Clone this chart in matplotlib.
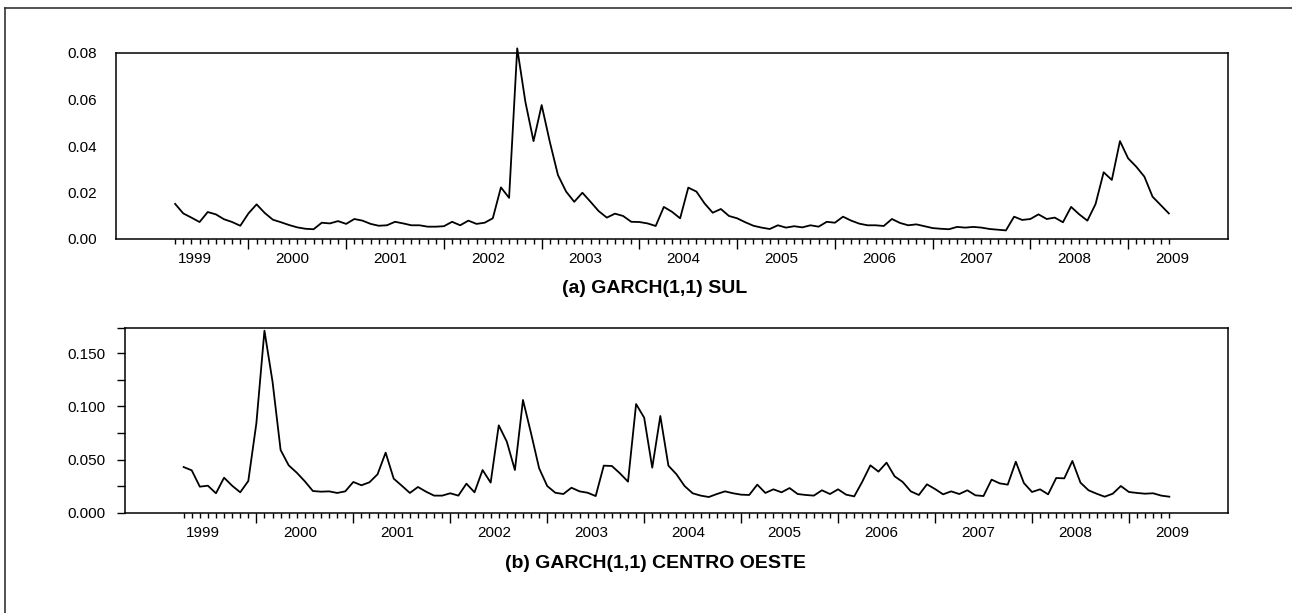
import numpy as np
import pandas as pd
import matplotlib
matplotlib.use("Agg")
import matplotlib.pyplot as plt
from matplotlib.lines import Line2D

plt.rcParams["font.family"] = ["Liberation Sans", "DejaVu Sans"]

# ─────────────────────────────────────────────
# Daten (monatlich)
# ─────────────────────────────────────────────
dates = pd.date_range("1999-04-01", periods=123, freq="MS")

sul = [
    0.0151, 0.0110, 0.0092, 0.0073, 0.0116, 0.0106, 0.0085, 0.0073, 0.0057, 0.0110,
    0.0149, 0.0112, 0.0083, 0.0072, 0.0060, 0.0050, 0.0044, 0.0042, 0.0070, 0.0067,
    0.0077, 0.0065, 0.0086, 0.0079, 0.0065, 0.0057, 0.0059, 0.0074, 0.0067, 0.0059,
    0.0059, 0.0053, 0.0053, 0.0055, 0.0074, 0.0059, 0.0079, 0.0065, 0.0070, 0.0089,
    0.0222, 0.0177, 0.0820, 0.0590, 0.0421, 0.0576, 0.0418, 0.0275, 0.0204, 0.0160,
    0.0199, 0.0160, 0.0120, 0.0092, 0.0109, 0.0099, 0.0074, 0.0073, 0.0067, 0.0056,
    0.0138, 0.0117, 0.0089, 0.0221, 0.0204, 0.0153, 0.0113, 0.0129, 0.0099, 0.0089,
    0.0072, 0.0057, 0.0049, 0.0043, 0.0059, 0.0049, 0.0055, 0.0050, 0.0059, 0.0053,
    0.0074, 0.0070, 0.0096, 0.0079, 0.0066, 0.0059, 0.0059, 0.0056, 0.0086, 0.0069,
    0.0059, 0.0063, 0.0055, 0.0047, 0.0044, 0.0042, 0.0052, 0.0049, 0.0052, 0.0049,
    0.0043, 0.0040, 0.0037, 0.0096, 0.0082, 0.0086, 0.0106, 0.0086, 0.0092, 0.0072,
    0.0138, 0.0106, 0.0079, 0.0150, 0.0287, 0.0254, 0.0421, 0.0347, 0.0311, 0.0268,
    0.0182, 0.0146, 0.0110,
]

centro_oeste = [
    0.0431, 0.0400, 0.0247, 0.0256, 0.0185, 0.0331, 0.0256, 0.0194, 0.0300, 0.0841,
    0.1710, 0.1232, 0.0591, 0.0447, 0.0378, 0.0297, 0.0206, 0.0200, 0.0203, 0.0188,
    0.0203, 0.0291, 0.0260, 0.0288, 0.0363, 0.0566, 0.0322, 0.0256, 0.0188, 0.0244,
    0.0200, 0.0163, 0.0163, 0.0185, 0.0163, 0.0275, 0.0194, 0.0403, 0.0285, 0.0822,
    0.0669, 0.0403, 0.1060, 0.0747, 0.0419, 0.0253, 0.0190, 0.0178, 0.0237, 0.0203,
    0.0190, 0.0159, 0.0444, 0.0441, 0.0372, 0.0294, 0.1022, 0.0894, 0.0425, 0.0910,
    0.0444, 0.0363, 0.0253, 0.0185, 0.0163, 0.0150, 0.0178, 0.0203, 0.0185, 0.0172,
    0.0169, 0.0266, 0.0188, 0.0222, 0.0194, 0.0234, 0.0178, 0.0169, 0.0163, 0.0213,
    0.0178, 0.0222, 0.0172, 0.0156, 0.0294, 0.0447, 0.0388, 0.0472, 0.0344, 0.0291,
    0.0203, 0.0169, 0.0269, 0.0225, 0.0175, 0.0203, 0.0178, 0.0213, 0.0166, 0.0159,
    0.0313, 0.0278, 0.0266, 0.0481, 0.0281, 0.0197, 0.0222, 0.0175, 0.0328, 0.0325,
    0.0488, 0.0285, 0.0213, 0.0181, 0.0153, 0.0181, 0.0253, 0.0197, 0.0188, 0.0181,
    0.0185, 0.0163, 0.0153,
]

years = list(range(1999, 2010))
titles = ["(a) GARCH(1,1) SUL", "(b) GARCH(1,1) CENTRO OESTE"]

# Zeitachse als Dezimaljahr
x = dates.year + (dates.month - 1) / 12
jan = x[dates.month == 1]
other = x[dates.month != 1]

# ─────────────────────────────────────────────
# Plot
# ─────────────────────────────────────────────
fig = plt.figure(figsize=(12.92, 6.13), dpi=100)

ax1 = fig.add_axes([116 / 1292, 1 - 239 / 613, 1112 / 1292, 186 / 613])
ax2 = fig.add_axes([125 / 1292, 1 - 513 / 613, 1103 / 1292, 185 / 613])


def style_time_axis(ax, values, title, title_y):
    ax.plot(x, values, color="black", lw=1.3, clip_on=False)
    ax.set_xlim(1998.645, 2010.022)
    for s in ax.spines.values():
        s.set_linewidth(1.1)
    ax.set_xticks(jan)
    ax.set_xticks(other, minor=True)
    ax.tick_params(axis="x", which="major", length=7.5, width=1.0, labelbottom=False)
    ax.tick_params(axis="x", which="minor", length=3.8, width=1.0)
    for yr in years:
        ax.annotate(str(yr), xy=(yr + 0.45, 0), xycoords=("data", "axes fraction"),
                    xytext=(0, -14.5), textcoords="offset points",
                    ha="center", va="center", fontsize=11)
    fig.text(0.507, title_y, title, ha="center", va="center",
             fontsize=14, fontweight="bold")


style_time_axis(ax1, sul, titles[0], 1 - 288 / 613)
ax1.set_ylim(0, 0.08)
ax1.set_yticks([0, 0.02, 0.04, 0.06, 0.08])
ax1.set_yticklabels(["0.00", "0.02", "0.04", "0.06", "0.08"])
ax1.tick_params(axis="y", length=0, pad=14, labelsize=11)

style_time_axis(ax2, centro_oeste, titles[1], 1 - 563 / 613)
ax2.set_ylim(0, 0.1735)
yt = [0, 0.025, 0.05, 0.075, 0.1, 0.125, 0.15, 0.1735]
ax2.set_yticks(yt)
ax2.set_yticklabels(["0.000", "", "0.050", "", "0.100", "", "0.150", ""])
ax2.tick_params(axis="y", length=6, width=1.0, pad=8, labelsize=11)

# äußerer Rahmen (nur links und oben sichtbar)
fig.add_artist(Line2D([5 / 1292, 5 / 1292], [0, 1 - 8 / 613], color="#333333", lw=1.2))
fig.add_artist(Line2D([5 / 1292, 1], [1 - 8 / 613, 1 - 8 / 613], color="#333333", lw=1.2))

fig.savefig("out.png", dpi=100)
